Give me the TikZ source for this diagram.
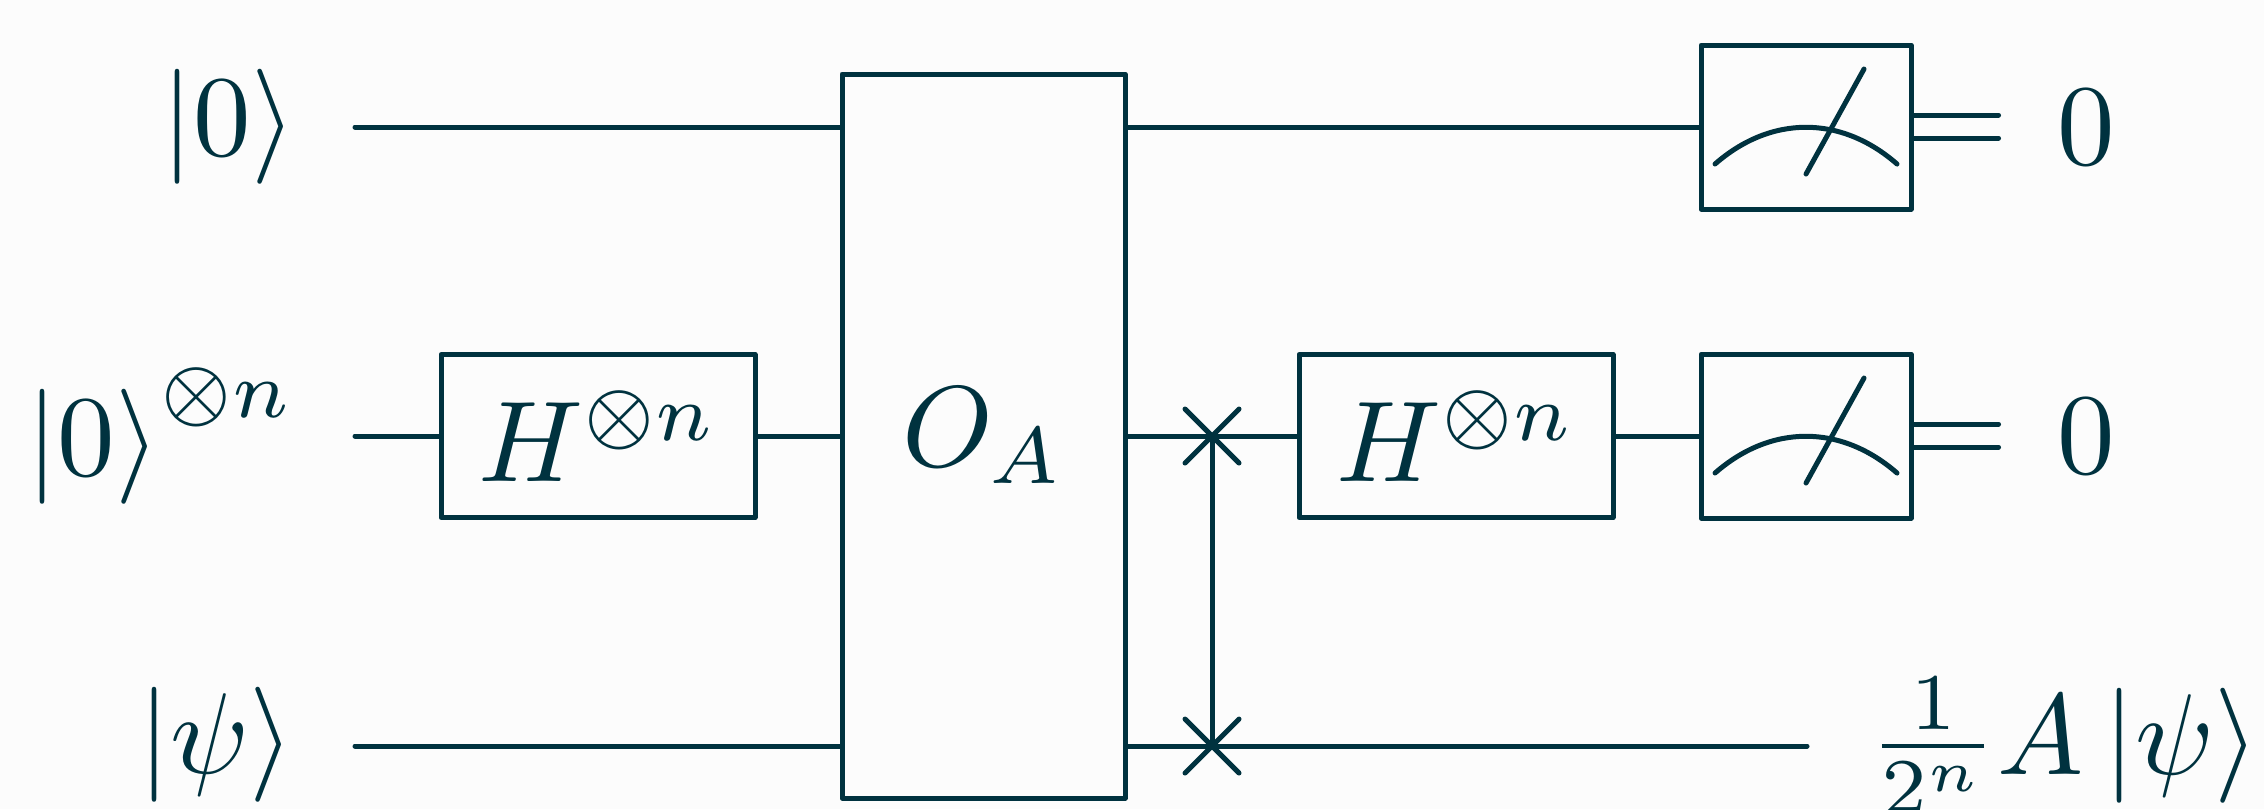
\documentclass[tikz,border=0pt]{standalone}
\usepackage{amsmath}
\usetikzlibrary{calc}
\definecolor{ink}{HTML}{00323F}
\definecolor{paper}{HTML}{FCFCFC}
\newcommand{\kt}[1]{\left|#1\right\rangle}
\newcommand{\mypx}{0.08696pt}
\tikzset{
  gatebox/.style={draw=ink,text=ink,line width=5*\mypx,rectangle,inner sep=0pt,line join=round},
  wire/.style={draw=ink,line width=5*\mypx,line cap=round},
  lab/.style={text=ink,inner sep=0pt,outer sep=0pt},
}
\begin{document}
\begin{tikzpicture}[x=\mypx,y=-\mypx]
\useasboundingbox (0,0) rectangle (2264,809);
\clip (0,0) rectangle (2264,809);
\fill[paper] (0,0) rectangle (2264,809);
% free ends
\coordinate (w1) at (355,127);
\coordinate (w2) at (355,436);
\coordinate (w3) at (355,746);
\coordinate (end3) at (1807,746);
\coordinate (sw1) at (1212,436);
\coordinate (sw2) at (1212,746);
% gates
\node[gatebox,minimum width=283*\mypx,minimum height=724*\mypx] (oracle) at (983.5,436) {\color{ink}$O_A$};
\node[gatebox,minimum width=314*\mypx,minimum height=163*\mypx] (h1) at (598,436) {\color{ink}$H^{\otimes n}$};
\node[gatebox,minimum width=314*\mypx,minimum height=163*\mypx] (h2) at (1456,436) {\color{ink}$H^{\otimes n}$};
\node[gatebox,minimum width=210*\mypx,minimum height=164*\mypx] (m1) at (1806,127) {};
\node[gatebox,minimum width=210*\mypx,minimum height=164*\mypx] (m2) at (1806,436) {};
% wires
\draw[wire] (w1) -- (w1 -| oracle.west);
\draw[wire] (w2) -- (h1.west);
\draw[wire] (h1.east) -- (w2 -| oracle.west);
\draw[wire] (w3) -- (w3 -| oracle.west);
\draw[wire] (w1 -| oracle.east) -- (m1.west);
\draw[wire] (w2 -| oracle.east) -- (h2.west);
\draw[wire] (h2.east) -- (m2.west);
\draw[wire] (w3 -| oracle.east) -- (end3);
\draw[wire] (sw1) -- (sw2);
% swap crosses
\foreach \s in {sw1,sw2}{
  \draw[wire] ($(\s)+(-27,-27)$) -- ($(\s)+(27,27)$);
  \draw[wire] ($(\s)+(-27,27)$) -- ($(\s)+(27,-27)$);
}
% meters and classical wires
\foreach \m in {m1,m2}{
  \draw[wire] ($(\m.center)+(-91,37)$) .. controls ($(\m.center)+(-35,-12)$) and ($(\m.center)+(35,-12)$) .. ($(\m.center)+(91,37)$);
  \draw[wire] ($(\m.center)+(0,47)$) -- ($(\m.center)+(58,-58)$);
  \draw[wire] ($(\m.east)+(0,-12)$) -- ($(\m.east)+(85,-12)$);
  \draw[wire] ($(\m.east)+(0,11)$) -- ($(\m.east)+(85,11)$);
}
% labels
\node[lab,anchor=center] (in1) at (229,127) {$\kt{0}$};
\node[lab,anchor=base west] (in2) at (26,475) {$\kt{0}^{\otimes n}$};
\node[lab,anchor=center] (in3) at (216,745) {$\kt{\psi}$};
\node[lab] (o1) at (2086,127) {$0$};
\node[lab] (o2) at (2086,436) {$0$};
\node[lab,anchor=east] (o3) at (2259,746) {$\frac{1}{2^n}A\kt{\psi}$};
\end{tikzpicture}
\end{document}
